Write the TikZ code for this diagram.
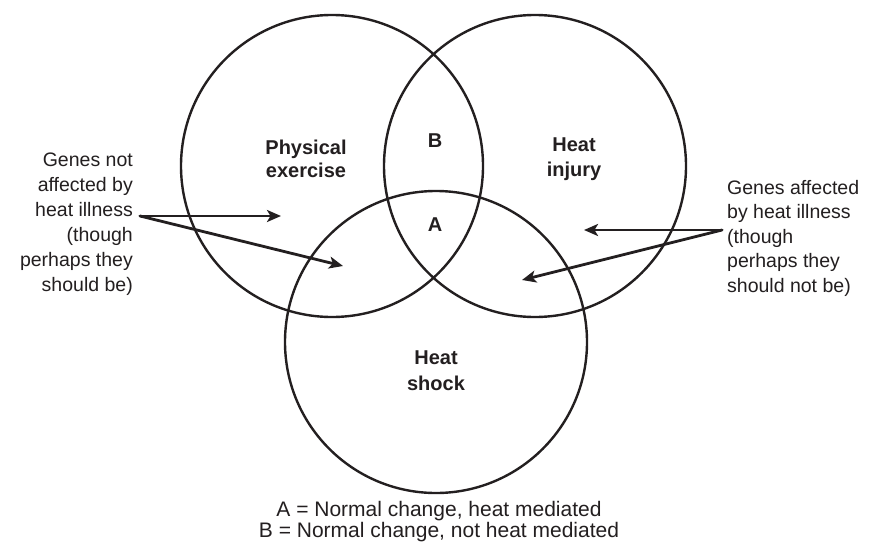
\documentclass[tikz,border=0pt]{standalone}
\usepackage{fontspec}
\setmainfont{Liberation Sans}
\usetikzlibrary{arrows.meta}
\definecolor{ink}{RGB}{35,31,32}
\begin{document}
\begin{tikzpicture}[x=1pt,y=-1pt,
  ring/.style={draw=ink, line width=2.4pt, circle, minimum size=302pt, inner sep=0pt},
  lbl/.style={text=ink, align=center, inner sep=0pt},
  side/.style={text=ink, inner sep=0pt},
  pointer/.style={draw=ink, line width=2.8pt, line cap=round,
    -{Stealth[length=14pt,width=12pt,inset=3.5pt]}}]
\fill[white] (0,0) rectangle (874,546);
\useasboundingbox (0,0) rectangle (874,546);

% circles
\node[ring] (pe) at (332,166) {};
\node[ring] (hi) at (535,166) {};
\node[ring] (hs) at (436,342) {};

% circle labels
\node[lbl, anchor=north, font=\fontsize{20}{23}\selectfont\bfseries] (pel) at (306,137.9) {\strut Physical\\exercise};
\node[lbl, anchor=north, font=\fontsize{20}{25}\selectfont\bfseries] (hil) at (574,133.5) {\strut Heat\\injury};
\node[lbl, anchor=north, font=\fontsize{20}{26}\selectfont\bfseries] (hsl) at (436,345.8) {\strut Heat\\shock};
\node[lbl, anchor=base, font=\fontsize{20}{24}\selectfont\bfseries] (B) at (435,147) {B};
\node[lbl, anchor=base, font=\fontsize{20}{24}\selectfont\bfseries] (A) at (435,231) {A};

% side texts
\node[side, align=right, anchor=north east, font=\fontsize{19.5}{25}\selectfont] (lt) at (133,148.5)
  {\strut Genes not\\affected by\\heat illness\\(though\\perhaps they\\should be)};
\node[side, align=left, anchor=north west, font=\fontsize{19.5}{24.5}\selectfont] (rtxt) at (727,176.85)
  {\strut Genes affected\\by heat illness\\(though\\perhaps they\\should not be)};

% key
\node[side, align=center, anchor=south, font=\fontsize{21}{20.5}\selectfont] (key) at (439,543.65)
  {A = Normal change, heat mediated\\B = Normal change, not heat mediated\strut};

% pointers
\coordinate (ls) at (140,216);
\coordinate (lt1) at (281,216);
\coordinate (lt2) at (343,266);
\coordinate (rs) at (722,230);
\coordinate (rt1) at (584,230);
\coordinate (rt2) at (522,280);
\draw[pointer] (ls) -- (lt1);
\draw[pointer] (ls) -- (lt2);
\draw[pointer] (rs) -- (rt1);
\draw[pointer] (rs) -- (rt2);
\end{tikzpicture}
\end{document}
